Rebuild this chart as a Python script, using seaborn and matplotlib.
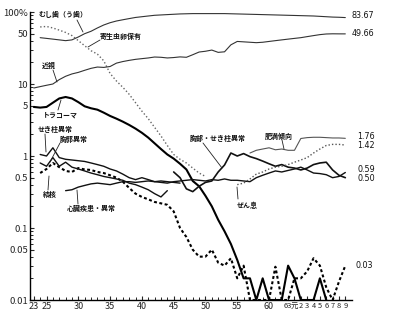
import numpy as np
import pandas as pd
import matplotlib
matplotlib.use("Agg")
import matplotlib.pyplot as plt
import matplotlib.transforms as mtransforms
import seaborn as sns

# ---- data (Showa years 23..63, Heisei 1..9 -> 64..72) ----
tick_years = [23, 25, 30, 35, 40, 45, 50, 55, 60, 63, 64, 65, 66, 67, 68, 69, 70, 71, 72]
tick_labels = ["23", "25", "30", "35", "40", "45", "50", "55", "60", "63", "元",
               "2", "3", "4", "5", "6", "7", "8", "9"]
ytick_vals = [0.01, 0.05, 0.1, 0.5, 1, 5, 10, 50, 100]
ytick_labels = ["0.01", "0.05", "0.1", "0.5", "1", "5", "10", "50", "100%"]

caries_start = 24
caries = [44, 43, 42, 41, 40, 41, 45, 50, 54, 60, 66, 71, 75, 78, 81, 84, 86, 88, 90, 91,
          92, 93, 94, 94.5, 95, 95, 95, 95, 95, 95, 94.5, 94, 93.5, 93, 92.5, 92, 91.5, 91,
          90.5, 90, 89.5, 89, 88.5, 88, 87, 86, 85, 84.5, 83.67]

parasite_start = 24
parasite = [62, 63, 60, 56, 52, 47, 40, 34, 29, 26, 21, 14, 11, 9, 7.2, 5.5, 4.2, 3.3,
            2.5, 1.9, 1.4, 1.05, 0.9, 0.8, 0.68, 0.58, 0.52]

myopia_start = 23
myopia = [8.8, 9.2, 9.6, 10.0, 11.5, 12.8, 13.8, 14.5, 15.5, 16.5, 17.2, 17.0, 17.5,
          19.5, 20.5, 21.3, 22, 22.5, 23, 23.7, 23.5, 23, 23.3, 23.8, 23.5, 25.5, 27.8,
          28.5, 29.6, 27.5, 28, 35, 39, 38.5, 38, 37.5, 38, 39, 40, 41, 42, 43, 44, 45.5,
          47, 48.5, 49.5, 49.8, 49.7, 49.66]

trachoma_start = 23
trachoma = [4.8, 4.7, 4.8, 5.5, 6.3, 6.6, 6.3, 5.6, 4.9, 4.6, 4.4, 4.0, 3.6, 3.3, 3.0,
            2.7, 2.4, 2.1, 1.8, 1.5, 1.25, 1.05, 0.92, 0.78, 0.65, 0.45, 0.38, 0.28, 0.2,
            0.13, 0.09, 0.06, 0.036, 0.02, 0.02, 0.01, 0.02, 0.01, 0.01, 0.01, 0.03, 0.02,
            0.01, 0.01, 0.01, 0.02, 0.01]

tb_start = 24
tb = [0.58, 0.66, 0.8, 0.7, 0.62, 0.6, 0.68, 0.65, 0.64, 0.6, 0.58, 0.54, 0.5, 0.44,
      0.36, 0.3, 0.27, 0.25, 0.23, 0.22, 0.21, 0.17, 0.1, 0.075, 0.05, 0.04, 0.04, 0.05,
      0.033, 0.03, 0.038, 0.02, 0.03, 0.01, 0.01, 0.01, 0.01, 0.029, 0.01, 0.01, 0.02,
      0.02, 0.025, 0.038, 0.03, 0.015, 0.01, 0.018, 0.03]

spine_start = 24
spine = [1.05, 1.0, 1.3, 0.95, 0.9, 0.88, 0.86, 0.84, 0.8, 0.76, 0.72, 0.66, 0.62, 0.56,
         0.5, 0.47, 0.5, 0.47, 0.44, 0.45, 0.44, 0.43, 0.42]

chest_start = 24
chest = [0.8, 0.72, 0.95, 0.72, 0.82, 0.7, 0.66, 0.62, 0.58, 0.55, 0.52, 0.5, 0.48, 0.46,
         0.42, 0.4, 0.37, 0.34, 0.3, 0.27, 0.33]

chest_spine_start = 45
chest_spine = [0.6, 0.5, 0.35, 0.32, 0.38, 0.43, 0.45, 0.6, 0.75, 1.1, 1.0, 1.08, 0.98,
               0.92, 0.85, 0.78, 0.72, 0.76, 0.7, 0.68, 0.64, 0.68, 0.76, 0.8, 0.82, 0.64,
               0.54, 0.50]

heart_start = 28
heart = [0.33, 0.34, 0.37, 0.39, 0.41, 0.42, 0.41, 0.4, 0.42, 0.44, 0.44, 0.43, 0.44,
         0.45, 0.44, 0.43, 0.42, 0.44, 0.45, 0.46, 0.47, 0.46, 0.45, 0.47, 0.46, 0.48,
         0.46, 0.46, 0.45, 0.44, 0.5, 0.54, 0.58, 0.62, 0.6, 0.63, 0.66, 0.7, 0.64, 0.58,
         0.57, 0.55, 0.5, 0.52, 0.59]

obesity_start = 57
obesity = [1.1, 1.2, 1.25, 1.3, 1.22, 1.25, 1.2, 1.2, 1.75, 1.8, 1.82, 1.82, 1.8, 1.78,
           1.78, 1.76]

asthma_start = 55
asthma = [0.4, 0.42, 0.48, 0.56, 0.6, 0.66, 0.7, 0.72, 0.76, 0.82, 0.88, 0.95, 1.1, 1.25,
          1.4, 1.45, 1.45, 1.42]

end_labels = ["83.67", "49.66", "1.76", "1.42", "0.59", "0.50", "0.03"]

# ---- figure ----
sns.set_style("ticks")
plt.rcParams["font.family"] = ["Noto Sans CJK JP", "DejaVu Sans"]

W, H = 395, 333
fig = plt.figure(figsize=(W / 100, H / 100), dpi=100)
ax = fig.add_axes([30 / W, 33 / H, 322 / W, 288 / H])

series = [
    (caries_start, caries, dict(color="#333333", lw=0.8), None),
    (parasite_start, parasite, dict(color="#666666", lw=1.0), (1.0, 1.6)),
    (myopia_start, myopia, dict(color="#333333", lw=0.8), None),
    (trachoma_start, trachoma, dict(color="#000000", lw=1.5), None),
    (tb_start, tb, dict(color="#000000", lw=1.5), (1.4, 1.2)),
    (spine_start, spine, dict(color="#111111", lw=1.0), None),
    (chest_start, chest, dict(color="#111111", lw=1.0), None),
    (chest_spine_start, chest_spine, dict(color="#111111", lw=1.2), None),
    (heart_start, heart, dict(color="#111111", lw=1.0), None),
    (obesity_start, obesity, dict(color="#555555", lw=0.8), None),
    (asthma_start, asthma, dict(color="#555555", lw=1.0), (1.0, 1.5)),
]

for start, vals, style, dashes in series:
    df = pd.DataFrame({"year": np.arange(start, start + len(vals)), "value": vals})
    sns.lineplot(data=df, x="year", y="value", ax=ax, **style)
    if dashes is not None:
        ax.lines[-1].set_dashes(dashes)

ax.set_yscale("log")
ax.set_ylim(0.01, 100)
ax.set_xlim(22.4, 73.05)
ax.set_xlabel("")
ax.set_ylabel("")

ax.set_xticks(tick_years)
ax.set_xticklabels(tick_labels, fontsize=6.5)
shifts = {63: -3.0, 64: 1.0}
for lab, yr in zip(ax.get_xticklabels(), tick_years):
    if yr >= 63:
        lab.set_fontsize(5.4)
    if yr in shifts:
        lab.set_transform(lab.get_transform() +
                          mtransforms.ScaledTranslation(shifts[yr] / 100, 0, fig.dpi_scale_trans))
ax.set_xticks(np.arange(23, 73), minor=True)
ax.set_yticks(ytick_vals)
ax.set_yticklabels(ytick_labels, fontsize=6.8)
ax.yaxis.set_minor_locator(matplotlib.ticker.LogLocator(base=10, subs=np.arange(2, 10)))
ax.yaxis.set_minor_formatter(matplotlib.ticker.NullFormatter())
ax.tick_params(axis="both", which="major", direction="in", length=3, width=0.8, pad=1.5)
ax.tick_params(axis="both", which="minor", direction="in", length=2, width=0.7)
for s in ["top", "right"]:
    ax.spines[s].set_visible(False)
for s in ["left", "bottom"]:
    ax.spines[s].set_linewidth(1.0)
    ax.spines[s].set_color("black")


def fp(x, y):
    return (x / W, 1 - y / H)


annotations = [
    ("むし歯（う歯）", (38, 14), (77, 20), (83, 32)),
    ("寄生虫卵保有", (100, 36), (100, 40), (88, 47)),
    ("近視", (42, 65), (53, 70), (57, 82)),
    ("トラコーマ", (43, 115), (58, 110), (61, 100)),
    ("せき柱異常", (38, 129), (45, 134), (46, 152)),
    ("胸郭異常", (60, 139), (60, 143), (50, 162)),
    ("結核", (43, 194), (48, 190), (49, 176)),
    ("心臓疾患・異常", (67, 209), (78, 204), (77, 190)),
    ("胸部・せき柱異常", (190, 138), (203, 143), (222, 168)),
    ("肥満傾向", (265, 136), (282, 140), (284, 149)),
    ("ぜん息", (237, 205), (238, 199), (237, 187)),
]
for text, tpos, p0, p1 in annotations:
    fig.text(*fp(*tpos), text, fontsize=5.0, fontweight="bold", ha="left", va="center",
             color="#111111")
    fig.add_artist(matplotlib.lines.Line2D([p0[0] / W, p1[0] / W],
                                           [1 - p0[1] / H, 1 - p1[1] / H],
                                           transform=fig.transFigure, color="#222222", lw=0.6))

end_pos = [(352, 16), (352, 33), (357, 137), (357, 145), (357, 170), (357, 178), (355, 265)]
for lab, pos in zip(end_labels, end_pos):
    fig.text(*fp(*pos), lab, fontsize=5.8, ha="left", va="center", color="#111111",
             family=["DejaVu Sans"])

fig.savefig("out.png", dpi=100)
